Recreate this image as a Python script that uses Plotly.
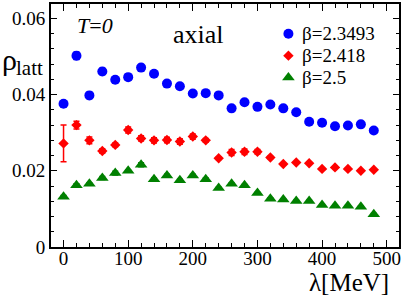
import plotly.graph_objects as go

lam = [0, 20, 40, 60, 80, 100, 120, 140, 160, 180, 200, 220, 240, 260, 280,
       300, 320, 340, 360, 380, 400, 420, 440, 460, 480]

rho_b1 = [0.0376, 0.0502, 0.0398, 0.0461, 0.0439, 0.0446, 0.0471, 0.0455, 0.0429,
          0.0422, 0.0403, 0.0404, 0.0398, 0.0364, 0.0380, 0.0368, 0.0374, 0.0364,
          0.0354, 0.0329, 0.0326, 0.0317, 0.0319, 0.0322, 0.0306]
err_b1 = [0.0007, 0.0010, 0.0008, 0.0008, 0.0006, 0.0008, 0.0008, 0.0007, 0.0004,
          0.0004, 0.0004, 0.0003, 0.0003, 0.0003, 0.0003, 0.0003, 0.0003, 0.0003,
          0.0003, 0.0003, 0.0003, 0.0003, 0.0003, 0.0003, 0.0003]

rho_b2 = [0.0272, 0.0320, 0.0280, 0.0252, 0.0268, 0.0307, 0.0285, 0.0280, 0.0281,
          0.0277, 0.0290, 0.0280, 0.0233, 0.0248, 0.0250, 0.0250, 0.0235, 0.0218,
          0.0222, 0.0220, 0.0205, 0.0209, 0.0205, 0.0200, 0.0203]
err_b2 = [0.0048, 0.0010, 0.0009, 0.0006, 0.0005, 0.0008, 0.0007, 0.0007, 0.0007,
          0.0007, 0.0007, 0.0005, 0.0003, 0.0008, 0.0007, 0.0006, 0.0003, 0.0002,
          0.0002, 0.0002, 0.0002, 0.0002, 0.0002, 0.0002, 0.0002]

rho_b3 = [0.0132, 0.0162, 0.0166, 0.0181, 0.0194, 0.0200, 0.0216, 0.0178, 0.0188,
          0.0175, 0.0188, 0.0178, 0.0155, 0.0166, 0.0162, 0.0142, 0.0127, 0.0125,
          0.0121, 0.0121, 0.0110, 0.0108, 0.0108, 0.0106, 0.0086]
err_b3 = [0.0003, 0.0004, 0.0003, 0.0004, 0.0005, 0.0003, 0.0005, 0.0003, 0.0003,
          0.0003, 0.0003, 0.0003, 0.0002, 0.0002, 0.0002, 0.0002, 0.0002, 0.0002,
          0.0002, 0.0002, 0.0002, 0.0002, 0.0002, 0.0002, 0.0002]

series_names = ["β=2.3493", "β=2.418", "β=2.5"]
colors = ["#0000ff", "#ff0000", "#008000"]
symbols = ["circle", "diamond", "triangle-up"]
sizes = [10, 8, 11]

FONT = "Liberation Serif, Times New Roman, DejaVu Serif, serif"
fig = go.Figure()
for ys, es, name, c, s, sz in zip([rho_b1, rho_b2, rho_b3], [err_b1, err_b2, err_b3],
                                  series_names, colors, symbols, sizes):
    fig.add_trace(go.Scatter(
        x=lam, y=ys, mode="markers", name=name, showlegend=False,
        marker=dict(color=c, symbol=s, size=sz, line=dict(width=0)),
        error_y=dict(type="data", array=es, color=c, thickness=1.5, width=3),
    ))

# legend drawn in an overlay pixel-coordinate axis
leg_x = [289, 289, 289]
leg_y = [32, 54, 76]
for i in range(3):
    fig.add_trace(go.Scatter(
        x=[leg_x[i]], y=[leg_y[i]], xaxis="x2", yaxis="y2", mode="markers",
        showlegend=False, hoverinfo="skip",
        marker=dict(color=colors[i], symbol=symbols[i], size=sizes[i], line=dict(width=0)),
    ))
    fig.add_annotation(x=leg_x[i] + 12, y=leg_y[i], xref="x2", yref="y2",
                       text=series_names[i], showarrow=False, xanchor="left",
                       yanchor="middle", font=dict(family=FONT, size=19, color="black"))

axis_common = dict(showline=True, linecolor="black", linewidth=2, mirror="allticks",
                   ticks="inside", tickcolor="black", tickwidth=1.2, showgrid=False,
                   zeroline=False, tickfont=dict(family=FONT, size=19, color="black"))

fig.update_layout(
    width=403, height=295,
    margin=dict(l=51, r=3, t=2, b=48),
    paper_bgcolor="white", plot_bgcolor="white",
    font=dict(family=FONT, color="black"),
    xaxis=dict(range=[-19.4, 519], dtick=100, ticklen=7, ticklabelstandoff=-7,
               minor=dict(dtick=20, ticklen=4, ticks="inside", tickcolor="black", tickwidth=1.2),
               **axis_common),
    yaxis=dict(range=[0, 0.0638], dtick=0.02, ticklen=6,
               minor=dict(dtick=0.004, ticklen=3, ticks="inside", tickcolor="black", tickwidth=1.2),
               **axis_common),
    xaxis2=dict(overlaying="x", range=[50.7, 400], visible=False, fixedrange=True),
    yaxis2=dict(overlaying="y", range=[246.7, 2], visible=False, fixedrange=True),
)

fig.add_annotation(x=95, y=24, xref="x2", yref="y2", text="<i>T</i>=<i>0</i>", showarrow=False,
                   font=dict(family=FONT, size=22, color="black"))
fig.add_annotation(x=199, y=33, xref="x2", yref="y2", text="axial", showarrow=False,
                   font=dict(family=FONT, size=26, color="black"))
fig.add_annotation(x=0, y=58, xref="paper", yref="y2", xanchor="left", text="ρ", showarrow=False,
                   font=dict(family=FONT, size=30, color="black"), xshift=-51)
fig.add_annotation(x=0, y=66, xref="paper", yref="y2", xanchor="left", text="latt", showarrow=False,
                   font=dict(family=FONT, size=21, color="black"), xshift=-37)
fig.add_annotation(x=1, y=0, xref="paper", yref="paper", xanchor="right", yanchor="top",
                   text="λ[MeV]", showarrow=False, yshift=-20, xshift=-8,
                   font=dict(family=FONT, size=25, color="black"))

fig.write_html("out.html", config={"displayModeBar": False},
               post_script="document.body.style.margin='0';")
